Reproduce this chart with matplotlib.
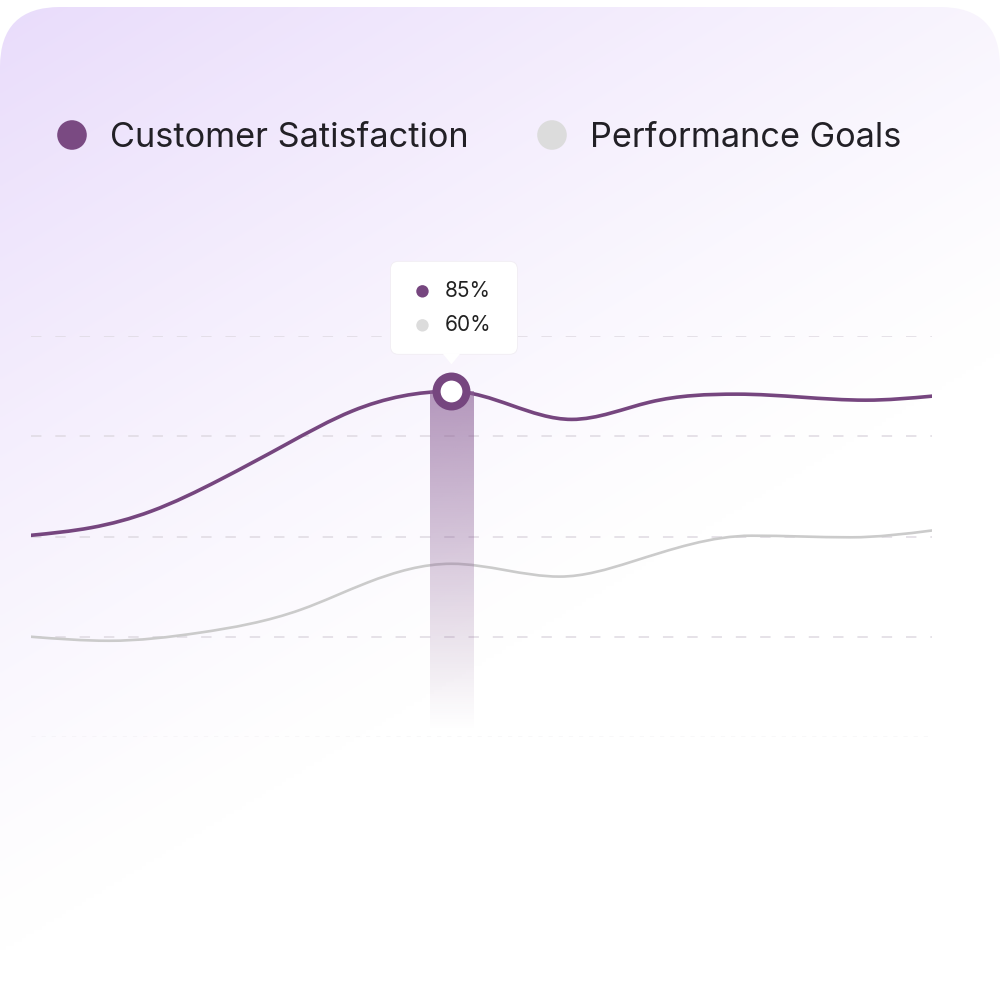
import numpy as np
import matplotlib
matplotlib.use('Agg')
import matplotlib.pyplot as plt
from matplotlib.path import Path
from matplotlib.patches import PathPatch, FancyBboxPatch, Circle, Polygon
from matplotlib.colors import to_rgb

plt.rcParams['font.family'] = ['Inter', 'DejaVu Sans']
plt.rcParams['lines.scale_dashes'] = False

# data: day of month -> value
sat_days = [0, 2, 4, 6.3, 8.5, 10.7, 14, 18, 20.6, 23.5, 27.8, 30]
satisfaction = [50.3, 52.2, 56.3, 64.2, 73.0, 81.3, 86.2, 79.2, 83.5, 85.5, 84.0, 85.0]
goal_days = [0, 2.6, 5.6, 9, 11.2, 14, 17.6, 20, 24, 27.3, 30]
goals = [25.0, 24.0, 26.0, 31.8, 38.5, 43.2, 40.0, 43.7, 50.2, 49.8, 51.5]
grid_values = [25, 50, 75, 100]
series_names = ["Customer Satisfaction", "Performance Goals"]
hover_day = 14
hover_labels = ["85%", "60%"]

purple = '#76467f'
gray_line = '#cbcbcb'
gray_dot = '#dcdcdc'


def piece_tangents(x, y, natural_left, natural_right):
    # cubic spline slopes on one monotone piece, flat where a piece meets an extreme
    n = len(x)
    h = np.diff(x)
    d = np.diff(y) / h
    A = np.zeros((n, n))
    b = np.zeros(n)
    for i in range(1, n - 1):
        A[i, i - 1] = 1 / h[i - 1]
        A[i, i] = 2 * (1 / h[i - 1] + 1 / h[i])
        A[i, i + 1] = 1 / h[i]
        b[i] = 3 * (d[i - 1] / h[i - 1] + d[i] / h[i])
    if natural_left:
        A[0, 0], A[0, 1], b[0] = 2, 1, 3 * d[0]
    else:
        A[0, 0] = 1
    if natural_right:
        A[-1, -2], A[-1, -1], b[-1] = 1, 2, 3 * d[-1]
    else:
        A[-1, -1] = 1
    return np.linalg.solve(A, b)


def smooth_path(xs, ys):
    xs = np.asarray(xs, float)
    ys = np.asarray(ys, float)
    d = np.diff(ys) / np.diff(xs)
    breaks = [0] + [i for i in range(1, len(xs) - 1) if d[i - 1] * d[i] <= 0] + [len(xs) - 1]
    m = np.zeros(len(xs))
    for a, b in zip(breaks[:-1], breaks[1:]):
        seg = piece_tangents(xs[a:b + 1], ys[a:b + 1], a == 0, b == len(xs) - 1)
        m[a:b + 1] = seg
        m[a] = seg[0] if a == 0 else 0
        m[b] = seg[-1] if b == len(xs) - 1 else 0
    h = np.diff(xs)
    verts = [(xs[0], ys[0])]
    codes = [Path.MOVETO]
    for i in range(len(xs) - 1):
        verts += [(xs[i] + h[i] / 3, ys[i] + m[i] * h[i] / 3),
                  (xs[i + 1] - h[i] / 3, ys[i + 1] - m[i + 1] * h[i] / 3),
                  (xs[i + 1], ys[i + 1])]
        codes += [Path.CURVE4] * 3
    return Path(verts, codes)


fig = plt.figure(figsize=(10, 10), dpi=100)
fig.patch.set_facecolor('white')

# card background with soft lavender gradient
bg = fig.add_axes([0, 0, 1, 1])
bg.set_axis_off()
X, Y = np.meshgrid(np.linspace(0, 1000, 250), np.linspace(0, 1000, 250))
f = np.clip(1 - (0.6 * X + Y) / 950, 0, 1) ** 1.2
lav = np.array(to_rgb('#e9dcfb'))
img = (1 - f[..., None]) * np.ones(3) + f[..., None] * lav
im = bg.imshow(img, extent=(0, 1, 0, 1), origin='upper', aspect='auto', interpolation='bilinear')
card = FancyBboxPatch((0, -0.2), 1.0, 1.193, boxstyle='round,pad=0,rounding_size=0.06',
                      transform=bg.transAxes, facecolor='none', edgecolor='none')
bg.add_patch(card)
im.set_clip_path(card)
bg.set_xlim(0, 1)
bg.set_ylim(0, 1)

# chart area
ax = fig.add_axes([0.031, 0.263, 0.901, 0.401])
ax.set_axis_off()
ax.patch.set_alpha(0)

for v in grid_values:
    ax.axhline(v, color='#dfdae2', lw=1.1, ls=(0, (7.5, 10)), zorder=1)
ax.axhline(0, color='#e0dce3', lw=1.0, ls=(0, (3, 4.3)), zorder=1)

ax.add_patch(PathPatch(smooth_path(goal_days, goals), fill=False, edgecolor=gray_line,
                       lw=1.9, capstyle='round', zorder=2))
ax.add_patch(PathPatch(smooth_path(sat_days, satisfaction), fill=False, edgecolor=purple,
                       lw=2.6, capstyle='round', zorder=3))

# highlight bar fading downward
top = satisfaction[sat_days.index(hover_day)]
grad = np.zeros((200, 1, 4))
grad[..., :3] = to_rgb('#8a5e94')
grad[:, 0, 3] = np.linspace(0.62, 0.0, 200)
ax.imshow(grad, extent=(hover_day - 0.72, hover_day + 0.72, 1.5, top), origin='upper',
          aspect='auto', interpolation='bilinear', zorder=4)
ax.set_xlim(0, 30)
ax.set_ylim(0, 100)

ax.plot([hover_day], [top], marker='o', ms=21.5, mfc='white', mec=purple, mew=5.8,
        zorder=6, clip_on=False)

# tooltip
fig.canvas.draw()
px, py = ax.transData.transform((hover_day, top))
to_fig = fig.transFigure.inverted()


def fpt(dx, dy):
    return to_fig.transform((px + dx, py + dy))


x0, y0 = fpt(-61, 37)
x1, y1 = fpt(66, 130)
tip = FancyBboxPatch((x0, y0), x1 - x0, y1 - y0, boxstyle='round,pad=0,rounding_size=0.008',
                     transform=fig.transFigure, facecolor='white', edgecolor='#f1edf3',
                     lw=0.6, zorder=10)
fig.add_artist(tip)
fig.add_artist(Polygon([fpt(-9, 38), fpt(9, 38), fpt(0, 27)], closed=True,
                       transform=fig.transFigure, facecolor='white', edgecolor='none', zorder=11))
for i, (lab, col) in enumerate(zip(hover_labels, [purple, gray_dot])):
    dy = 100 - 34 * i
    cx, cy = fpt(-29, dy)
    fig.add_artist(Circle((cx, cy), 0.0062, transform=fig.transFigure, facecolor=col,
                          edgecolor='none', zorder=12))
    tx, ty = fpt(-7, dy)
    fig.text(tx, ty, lab, fontsize=15, color='#222222', va='center', ha='left', zorder=12)

# legend
legend_x = [0.072, 0.552]
legend_cols = ['#7a4a82', gray_dot]
for lx, name, col in zip(legend_x, series_names, legend_cols):
    fig.add_artist(Circle((lx, 0.865), 0.0148, transform=fig.transFigure, facecolor=col,
                          edgecolor='none', zorder=5))
    fig.text(lx + 0.038, 0.862, name, fontsize=24.7, color='#222026', va='center', ha='left')

fig.savefig('out.png', dpi=100)
